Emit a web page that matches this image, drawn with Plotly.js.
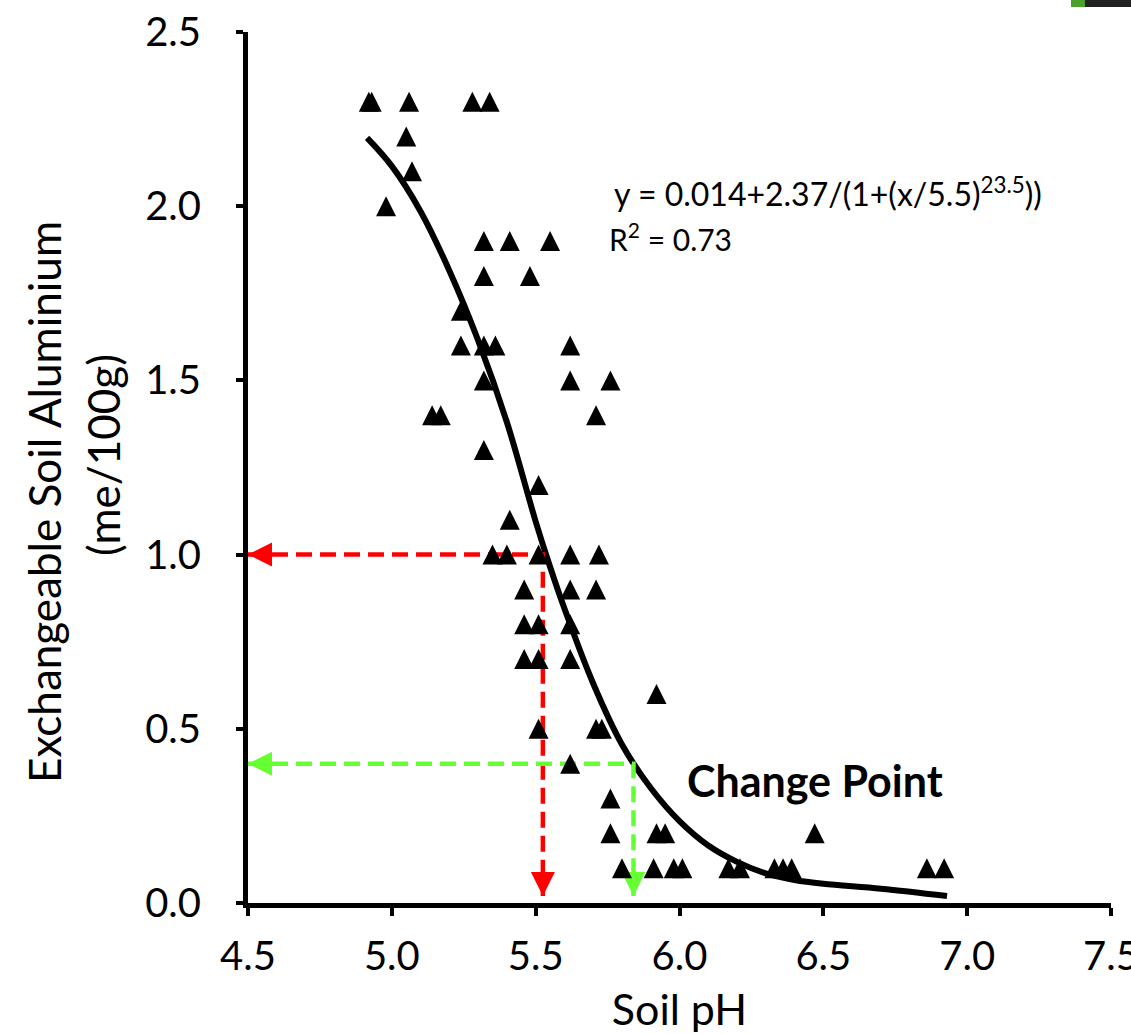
<!DOCTYPE html>
<html><head><meta charset="utf-8">
<script src="https://cdn.plot.ly/plotly-3.0.1.min.js"></script>
<style>html,body{margin:0;padding:0;background:#fff;} #chart{width:1131px;height:1034px;}</style>
</head><body><div id="chart"></div>
<script>
// Observed soil samples (pH, exchangeable Al me/100g)
const obsPH = [4.92,4.93,5.06,5.28,5.34,
  5.05,5.07,4.98,
  5.32,5.41,5.55,
  5.32,5.48,
  5.24,
  5.24,5.32,5.36,5.62,
  5.32,5.62,5.76,
  5.14,5.17,5.71,
  5.32,
  5.51,
  5.41,
  5.35,5.40,5.51,5.62,5.72,
  5.46,5.62,5.71,
  5.46,5.51,5.62,
  5.46,5.51,5.62,
  5.92,
  5.51,5.71,5.73,
  5.62,
  5.76,
  5.76,5.92,5.95,6.47,
  5.80,5.91,5.98,6.01,6.17,6.21,6.33,6.36,6.39,6.86,6.92];
const obsAl = [2.3,2.3,2.3,2.3,2.3,
  2.2,2.1,2.0,
  1.9,1.9,1.9,
  1.8,1.8,
  1.7,
  1.6,1.6,1.6,1.6,
  1.5,1.5,1.5,
  1.4,1.4,1.4,
  1.3,
  1.2,
  1.1,
  1.0,1.0,1.0,1.0,1.0,
  0.9,0.9,0.9,
  0.8,0.8,0.8,
  0.7,0.7,0.7,
  0.6,
  0.5,0.5,0.5,
  0.4,
  0.3,
  0.2,0.2,0.2,0.2,
  0.1,0.1,0.1,0.1,0.1,0.1,0.1,0.1,0.1,0.1,0.1];

// Fitted curve
const fitPH = [4.914,5.00,5.10,5.20,5.30,5.40,5.50,5.55,5.60,5.70,5.80,5.90,6.00,6.10,6.20,6.30,6.40,6.50,6.70,6.93];
const fitAl = [2.196,2.115,1.985,1.815,1.615,1.380,1.095,0.965,0.845,0.630,0.455,0.330,0.235,0.165,0.118,0.085,0.066,0.055,0.041,0.020];

// Guide lines (change point read-offs)
const redGuidePH = [4.5, 5.525, 5.525];
const redGuideAl = [1.0, 1.0, 0.02];
const greenGuidePH = [4.5, 5.84, 5.84];
const greenGuideAl = [0.40, 0.40, 0.02];

const xTickVals = [4.5,5.0,5.5,6.0,6.5,7.0,7.5];
const xTickText = ['4.5','5.0','5.5','6.0','6.5','7.0','7.5'];
const yTickVals = [0,0.5,1.0,1.5,2.0,2.5];
const yTickText = ['0.0','0.5','1.0','1.5','2.0','2.5'];

const yTitleLine1 = 'Exchangeable Soil Aluminium';
const yTitleLine2 = '(me/100g)';

const W = 1131, H = 1034;
const M = {l:248, r:20, t:32, b:131};
const yRange = [0, 2.5];
const markerSize = 20;
const plotW = W - M.l - M.r;
const plotH = H - M.t - M.b;
const shift = (markerSize/2) / plotH * (yRange[1]-yRange[0]);
const px2paperX = px => (px - M.l) / plotW;
const px2paperY = py => (H - M.b - py) / plotH;

const FONT = 'Lato, "Open Sans", sans-serif';
const RED = '#ff0000', GREEN = '#66ff33';

const traces = [
  {x: obsPH, y: obsAl, yaxis: 'y2', type: 'scatter', mode: 'markers',
   marker: {symbol: 'arrow-up', size: markerSize, color: '#000', line: {width: 0}},
   hoverinfo: 'x+y', showlegend: false},
  {x: fitPH, y: fitAl, type: 'scatter', mode: 'lines',
   line: {color: '#000', width: 6, shape: 'spline', smoothing: 1}, showlegend: false},
  {x: redGuidePH, y: redGuideAl, type: 'scatter', mode: 'lines',
   line: {color: RED, width: 4.5, dash: '16px,8px'}, showlegend: false},
  {x: greenGuidePH, y: greenGuideAl, type: 'scatter', mode: 'lines',
   line: {color: GREEN, width: 4.5, dash: '16px,8px'}, showlegend: false},
  {x: [redGuidePH[0]], y: [redGuideAl[0]], type: 'scatter', mode: 'markers',
   marker: {symbol: 'arrow-left', size: 24, color: RED}, showlegend: false},
  {x: [redGuidePH[2]], y: [redGuideAl[2]], type: 'scatter', mode: 'markers',
   marker: {symbol: 'arrow-down', size: 24, color: RED}, showlegend: false},
  {x: [greenGuidePH[0]], y: [greenGuideAl[0]], type: 'scatter', mode: 'markers',
   marker: {symbol: 'arrow-left', size: 24, color: GREEN}, showlegend: false},
  {x: [greenGuidePH[2]], y: [greenGuideAl[2]], type: 'scatter', mode: 'markers',
   marker: {symbol: 'arrow-down', size: 24, color: GREEN}, showlegend: false}
];

const layout = {
  width: W, height: H,
  margin: M,
  paper_bgcolor: '#fff', plot_bgcolor: '#fff',
  font: {family: FONT, color: '#000'},
  showlegend: false,
  xaxis: {
    range: [4.5, 7.5], tickvals: xTickVals, ticktext: xTickText,
    showgrid: false, zeroline: false,
    showline: true, linecolor: '#000', linewidth: 5,
    ticks: 'outside', ticklen: 8, tickwidth: 4, tickcolor: '#000',
    tickfont: {family: FONT, size: 40, color: '#000'},
    ticklabelstandoff: 6,
    ticklabeloverflow: 'allow',
    title: {text: 'Soil pH', font: {family: FONT, size: 43, color: '#000'}, standoff: 26},
    automargin: false
  },
  yaxis: {
    range: yRange, tickvals: yTickVals, ticktext: yTickText,
    showgrid: false, zeroline: false,
    showline: true, linecolor: '#000', linewidth: 5,
    ticks: 'outside', ticklen: 7, tickwidth: 4, tickcolor: '#000',
    tickfont: {family: FONT, size: 40, color: '#000'},
    ticklabelstandoff: 27,
    ticklabeloverflow: 'allow',
    automargin: false
  },
  yaxis2: {
    range: [yRange[0]-shift, yRange[1]-shift], overlaying: 'y', visible: false,
    showgrid: false, zeroline: false, fixedrange: true
  },
  annotations: [
    {x: px2paperX(44), y: px2paperY(502), xref: 'paper', yref: 'paper', xanchor: 'center', yanchor: 'middle',
     showarrow: false, textangle: -90, text: yTitleLine1, font: {family: FONT, size: 44, color: '#000'}},
    {x: px2paperX(103), y: px2paperY(455), xref: 'paper', yref: 'paper', xanchor: 'center', yanchor: 'middle',
     showarrow: false, textangle: -90, text: yTitleLine2, font: {family: FONT, size: 44, color: '#000'}},
    {x: 5.765, y: 2.041, xref: 'x', yref: 'y', xanchor: 'left', yanchor: 'middle', showarrow: false,
     text: 'y = 0.014+2.37/(1+(x/5.5)<sup>23.5</sup>))', font: {family: FONT, size: 32, color: '#000'}},
    {x: 5.748, y: 1.912, xref: 'x', yref: 'y', xanchor: 'left', yanchor: 'middle', showarrow: false,
     text: 'R<sup>2</sup> = 0.73', font: {family: FONT, size: 30, color: '#000'}},
    {x: 6.471, y: 0.353, xref: 'x', yref: 'y', xanchor: 'center', yanchor: 'middle', showarrow: false,
     text: '<b>Change Point</b>', font: {family: FONT, size: 43, color: '#000'}}
  ],
  shapes: [
    {type: 'rect', xref: 'paper', yref: 'paper', x0: px2paperX(1071), x1: px2paperX(1085),
     y0: px2paperY(7), y1: px2paperY(0), fillcolor: '#4aa02c', line: {width: 0}},
    {type: 'rect', xref: 'paper', yref: 'paper', x0: px2paperX(1085), x1: px2paperX(W),
     y0: px2paperY(7), y1: px2paperY(0), fillcolor: '#222222', line: {width: 0}}
  ]
};

Plotly.newPlot('chart', traces, layout, {displayModeBar: false, staticPlot: true});
</script>
</body></html>
